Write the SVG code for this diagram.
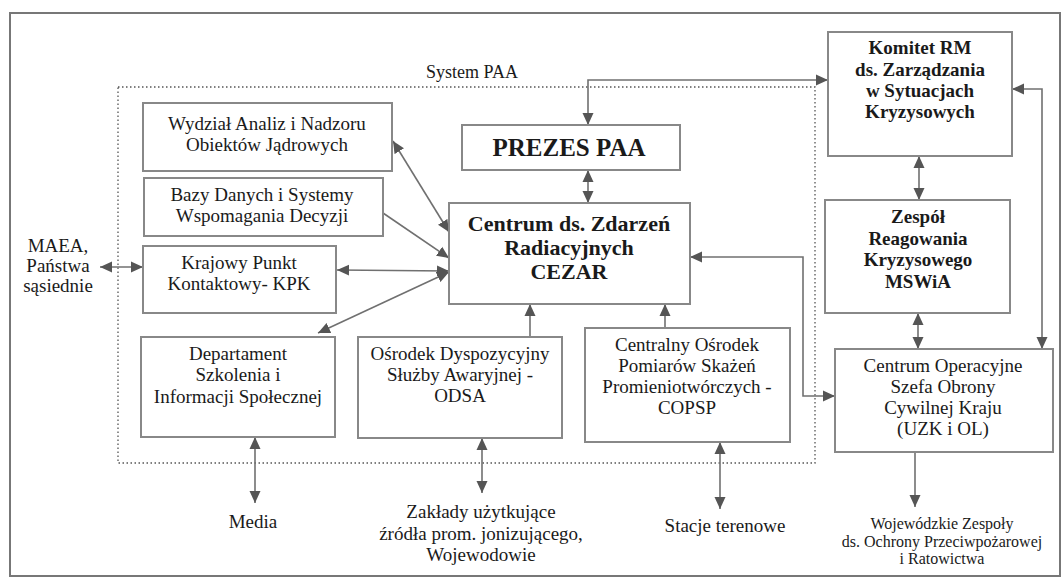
<svg xmlns="http://www.w3.org/2000/svg" width="1064" height="581" viewBox="0 0 1064 581">
<style>
  .frame{fill:none;stroke:#777;stroke-width:2}
  .dot{fill:none;stroke:#555;stroke-width:1.3;stroke-dasharray:1.5 2.5}
  .box{fill:#fff;stroke:#888;stroke-width:2}
  .t{font-family:"Liberation Serif","Times New Roman",serif;font-size:19px;fill:#1a1a1a;text-anchor:middle}
  .b{font-weight:bold}
  .c{fill:none;stroke:#707070;stroke-width:1.6}
  .s{font-size:16px}
  .sp{font-size:18px}
  .p{font-size:25px}
  .z{font-size:22px}
</style>
<defs>
  <marker id="ah" markerUnits="userSpaceOnUse" markerWidth="13" markerHeight="12" refX="12" refY="5.5" orient="auto-start-reverse" viewBox="0 0 13 11">
    <path d="M0,0 L12,5.5 L0,11 z" fill="#555"/>
  </marker>
</defs>
<rect class="frame" x="10" y="13" width="1050" height="563"/>
<rect class="dot" x="118" y="87" width="697" height="376"/>
<text class="t sp" x="472" y="78">System PAA</text>

<g id="connectors">
  <line class="c" x1="100" y1="267" x2="143" y2="267" marker-start="url(#ah)" marker-end="url(#ah)"/>
  <line class="c" x1="393" y1="141" x2="449" y2="232" marker-start="url(#ah)" marker-end="url(#ah)"/>
  <line class="c" x1="383" y1="213" x2="449" y2="258" marker-end="url(#ah)"/>
  <line class="c" x1="337" y1="270" x2="449" y2="271" marker-start="url(#ah)" marker-end="url(#ah)"/>
  <line class="c" x1="318" y1="333" x2="449" y2="272" marker-start="url(#ah)" marker-end="url(#ah)"/>
  <line class="c" x1="588" y1="170" x2="588" y2="203" marker-start="url(#ah)" marker-end="url(#ah)"/>
  <path class="c" d="M588,125 V80 H828" marker-start="url(#ah)" marker-end="url(#ah)"/>
  <line class="c" x1="919" y1="156" x2="919" y2="200" marker-start="url(#ah)" marker-end="url(#ah)"/>
  <path class="c" d="M1012,89 H1042 V349" marker-start="url(#ah)" marker-end="url(#ah)"/>
  <line class="c" x1="918" y1="313" x2="918" y2="349" marker-start="url(#ah)" marker-end="url(#ah)"/>
  <path class="c" d="M690,257 H803 V396 H835" marker-start="url(#ah)" marker-end="url(#ah)"/>
  <line class="c" x1="530" y1="337" x2="530" y2="304" marker-end="url(#ah)"/>
  <line class="c" x1="665" y1="328" x2="665" y2="304" marker-end="url(#ah)"/>
  <line class="c" x1="255" y1="437" x2="255" y2="503" marker-start="url(#ah)" marker-end="url(#ah)"/>
  <line class="c" x1="482" y1="438" x2="482" y2="493" marker-start="url(#ah)" marker-end="url(#ah)"/>
  <line class="c" x1="720" y1="442" x2="720" y2="509" marker-start="url(#ah)" marker-end="url(#ah)"/>
  <line class="c" x1="915" y1="452" x2="915" y2="507" marker-end="url(#ah)"/>
</g>

<g id="wydzial">
  <rect class="box" x="143" y="103" width="249" height="68"/>
  <text class="t" x="267" y="130">Wydział Analiz i Nadzoru</text>
  <text class="t" x="267" y="151">Obiektów Jądrowych</text>
</g>
<g id="bazy">
  <rect class="box" x="144" y="178" width="239" height="58"/>
  <text class="t" x="262" y="201">Bazy Danych i Systemy</text>
  <text class="t" x="262" y="222">Wspomagania Decyzji</text>
</g>
<g id="kpk">
  <rect class="box" x="143" y="246" width="193" height="67"/>
  <text class="t" x="239" y="269">Krajowy Punkt</text>
  <text class="t" x="239" y="290">Kontaktowy- KPK</text>
</g>
<g id="departament">
  <rect class="box" x="141" y="337" width="194" height="100"/>
  <text class="t" x="238" y="360">Departament</text>
  <text class="t" x="238" y="381">Szkolenia i</text>
  <text class="t" x="238" y="403">Informacji Społecznej</text>
</g>
<g id="odsa">
  <rect class="box" x="358" y="337" width="204" height="101"/>
  <text class="t" x="460" y="360">Ośrodek Dyspozycyjny</text>
  <text class="t" x="460" y="381">Służby Awaryjnej -</text>
  <text class="t" x="460" y="402">ODSA</text>
</g>
<g id="copsp">
  <rect class="box" x="585" y="328" width="205" height="114"/>
  <text class="t" x="687" y="351">Centralny Ośrodek</text>
  <text class="t" x="687" y="372">Pomiarów Skażeń</text>
  <text class="t" x="687" y="393">Promieniotwórczych -</text>
  <text class="t" x="687" y="414">COPSP</text>
</g>
<g id="prezes">
  <rect class="box" x="462" y="125" width="218" height="45"/>
  <text class="t b p" x="569" y="156">PREZES PAA</text>
</g>
<g id="cezar">
  <rect class="box" x="449" y="203" width="241" height="101"/>
  <text class="t b z" x="569" y="231">Centrum ds. Zdarzeń</text>
  <text class="t b z" x="569" y="255">Radiacyjnych</text>
  <text class="t b z" x="569" y="279">CEZAR</text>
</g>
<g id="komitet">
  <rect class="box" x="828" y="32" width="184" height="124"/>
  <text class="t b" x="920" y="54">Komitet RM</text>
  <text class="t b" x="920" y="76">ds. Zarządzania</text>
  <text class="t b" x="920" y="97">w Sytuacjach</text>
  <text class="t b" x="920" y="118">Kryzysowych</text>
</g>
<g id="zespol">
  <rect class="box" x="825" y="200" width="185" height="113"/>
  <text class="t b" x="918" y="223">Zespół</text>
  <text class="t b" x="918" y="245">Reagowania</text>
  <text class="t b" x="918" y="266">Kryzysowego</text>
  <text class="t b" x="918" y="288">MSWiA</text>
</g>
<g id="centrum-operacyjne">
  <rect class="box" x="835" y="349" width="218" height="103"/>
  <text class="t" x="943" y="372">Centrum Operacyjne</text>
  <text class="t" x="943" y="393">Szefa Obrony</text>
  <text class="t" x="943" y="414">Cywilnej Kraju</text>
  <text class="t" x="943" y="435">(UZK i OL)</text>
</g>
<g id="maea">
  <text class="t" x="58" y="252">MAEA,</text>
  <text class="t" x="58" y="272">Państwa</text>
  <text class="t" x="58" y="292">sąsiednie</text>
</g>
<g id="media">
  <text class="t" x="253" y="528">Media</text>
</g>
<g id="zaklady">
  <text class="t" x="481" y="518">Zakłady użytkujące</text>
  <text class="t" x="481" y="540">źródła prom. jonizującego,</text>
  <text class="t" x="481" y="561">Wojewodowie</text>
</g>
<g id="stacje">
  <text class="t" x="725" y="532">Stacje terenowe</text>
</g>
<g id="wojewodzkie">
  <text class="t s" x="942" y="529">Wojewódzkie Zespoły</text>
  <text class="t s" x="942" y="547">ds. Ochrony Przeciwpożarowej</text>
  <text class="t s" x="942" y="564">i Ratowictwa</text>
</g>
</svg>
